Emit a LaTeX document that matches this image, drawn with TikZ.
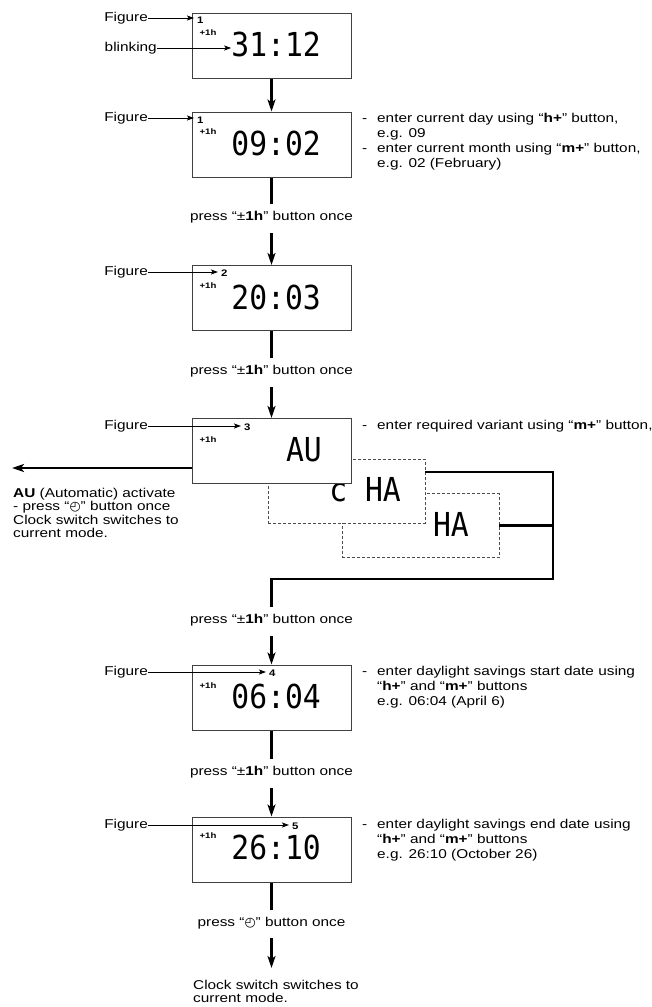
\documentclass[tikz,border=0pt]{standalone}
\usepackage{fontspec}
\setmainfont{Liberation Sans}[FakeStretch=1.2]
\newfontfamily\lcdfont{DejaVu Sans Mono}[FakeStretch=0.9]
\newfontfamily\symfont{DejaVu Sans}
\usetikzlibrary{arrows.meta}
\newcommand{\clocksym}{{\symfont ◴}}
\newcommand{\dashit}{\makebox[15pt][l]{-}}
\newcommand{\indentit}{\hspace*{15pt}}
\begin{document}
\begin{tikzpicture}[x=1pt,y=-1pt,
  disp/.style={draw=black!75, line width=1pt, fill=white, minimum width=159pt, minimum height=65pt, inner sep=0pt},
  ghost/.style={draw=black!70, line width=0.7pt, dash pattern=on 3pt off 2pt, fill=white, minimum width=157pt, minimum height=64pt, inner sep=0pt},
  lcdtxt/.style={font=\lcdfont\fontsize{33}{33}\selectfont, inner sep=0pt, anchor=east},
  plus/.style={font=\bfseries\fontsize{8}{8}\selectfont, inner sep=0pt},
  fignum/.style={font=\bfseries\fontsize{9.5}{9.5}\selectfont, inner sep=0pt, anchor=west},
  lbl/.style={font=\fontsize{12.8}{15}\selectfont, inner sep=0pt},
  note/.style={lbl, align=left, anchor=north west},
  press/.style={lbl, inner ysep=7pt},
  flow/.style={line width=2.2pt, black},
  flowarrow/.style={flow, -{Stealth[length=12pt,width=8pt,inset=3pt]}},
  figarrow/.style={line width=0.9pt, shorten >=3pt, -{Stealth[length=7pt,width=5pt,inset=1.5pt]}}
]
\useasboundingbox (0,0) rectangle (651,1007);

% ---------- box 1 ----------
\node[disp] (b1) at (271.5,45.5) {};
\node[lcdtxt] (d1) at (321,44.5) {31:12};
\node[plus] at (208,33) {+1h};
\node[lbl, anchor=east] (f1) at (148,18) {Figure};
\node[fignum] (n1) at (197,20) {1};
\draw[figarrow] (f1.east) -- (n1.west |- f1.east);
\node[lbl, anchor=east] (bl) at (157,48) {blinking};
\draw[figarrow, shorten >=0pt] (bl.east) -- (bl.east -| d1.west);

% ---------- box 2 ----------
\node[disp] (b2) at (271.5,144.5) {};
\node[lcdtxt] (d2) at (321,143.5) {09:02};
\node[plus] at (208,132) {+1h};
\node[lbl, anchor=east] (f2) at (148,118) {Figure};
\node[fignum] (n2) at (197,120) {1};
\draw[figarrow] (f2.east) -- (n2.west |- f2.east);
\node[note] (t2) at (362,113) {\dashit enter current day using “\textbf{h+}” button,\\
\indentit e.g. 09\\
\dashit enter current month using “\textbf{m+}” button,\\
\indentit e.g. 02 (February)};
\draw[flowarrow] (b1.south) -- (b2.north);

% ---------- press 1 ----------
\node[press] (p1) at (271.5,217) {press “±\textbf{1h}” button once};
\draw[flow] (b2.south) -- (p1.north);

% ---------- box 3 ----------
\node[disp] (b3) at (271.5,298) {};
\node[lcdtxt] (d3) at (321,297) {20:03};
\node[plus] at (208,286) {+1h};
\node[lbl, anchor=east] (f3) at (148,272) {Figure};
\node[fignum] (n3) at (221,273) {2};
\draw[figarrow] (f3.east) -- (n3.west |- f3.east);
\draw[flowarrow] ([yshift=-3pt]p1.south) -- (b3.north);

% ---------- press 2 ----------
\node[press] (p2) at (271.5,371) {press “±\textbf{1h}” button once};
\draw[flow] (b3.south) -- (p2.north);

% ---------- variant boxes ----------
\node[ghost] (ha) at (420.5,525.5) {};
\node[lcdtxt] at (469,524.5) {HA};
\node[ghost] (ch) at (346.5,491) {};
\node[lcdtxt] at (401,490) {c HA};
\node[disp] (b4) at (271.5,451) {};
\node[lcdtxt] (d4) at (322,450) {AU};
\node[plus] at (208,440) {+1h};
\node[lbl, anchor=east] (f4) at (148,426) {Figure};
\node[fignum] (n4) at (244,427) {3};
\draw[figarrow] (f4.east) -- (n4.west |- f4.east);
\draw[flowarrow] ([yshift=-3pt]p2.south) -- (b4.north);
\node[note] (t4) at (362,420) {\dashit enter required variant using “\textbf{m+}” button,};

% AU exit
\coordinate (auend) at (12,468);
\draw[flowarrow] ([yshift=-17pt]b4.west) -- (auend);
\node[note, font=\fontsize{12.8}{13.5}\selectfont] (au) at (13,488) {\textbf{AU} (Automatic) activate\\
- press “\clocksym” button once\\
Clock switch switches to\\
current mode.};

% junction
\node[press] (p3) at (271.5,620) {press “±\textbf{1h}” button once};
\coordinate (j2) at (553,579);
\draw[flow] ([yshift=19pt]ch.east) -| (j2) -| (p3.north);
\draw[flow] (ha.east) -- (ha.east -| j2);

% ---------- box 5 ----------
\node[disp] (b5) at (271.5,697.5) {};
\node[lcdtxt] (d5) at (321,696) {06:04};
\node[plus] at (208,686) {+1h};
\node[lbl, anchor=east] (f5) at (148,672) {Figure};
\node[fignum] (n5) at (269,673) {4};
\draw[figarrow] (f5.east) -- (n5.west |- f5.east);
\draw[flowarrow] ([yshift=-3pt]p3.south) -- (b5.north);
\node[note] (t5) at (362,666) {\dashit enter daylight savings start date using\\
\indentit “\textbf{h+}” and “\textbf{m+}” buttons\\
\indentit e.g. 06:04 (April 6)};

% ---------- press 4 ----------
\node[press] (p4) at (271.5,772) {press “±\textbf{1h}” button once};
\draw[flow] (b5.south) -- (p4.north);

% ---------- box 6 ----------
\node[disp] (b6) at (271.5,849.5) {};
\node[lcdtxt] (d6) at (321,847.5) {26:10};
\node[plus] at (208,836) {+1h};
\node[lbl, anchor=east] (f6) at (148,825) {Figure};
\node[fignum] (n6) at (292,826) {5};
\draw[figarrow] (f6.east) -- (n6.west |- f6.east);
\draw[flowarrow] ([yshift=-3pt]p4.south) -- (b6.north);
\node[note] (t6) at (362,819) {\dashit enter daylight savings end date using\\
\indentit “\textbf{h+}” and “\textbf{m+}” buttons\\
\indentit e.g. 26:10 (October 26)};

% ---------- final ----------
\node[press] (p5) at (271.5,923) {press “\clocksym” button once};
\draw[flow] (b6.south) -- (p5.north);
\coordinate (fend) at (271.5,968);
\draw[flowarrow] ([yshift=-2pt]p5.south) -- (fend);
\node[note, font=\fontsize{12.8}{13.5}\selectfont] (fin) at (193,980) {Clock switch switches to\\current mode.};
\end{tikzpicture}
\end{document}
